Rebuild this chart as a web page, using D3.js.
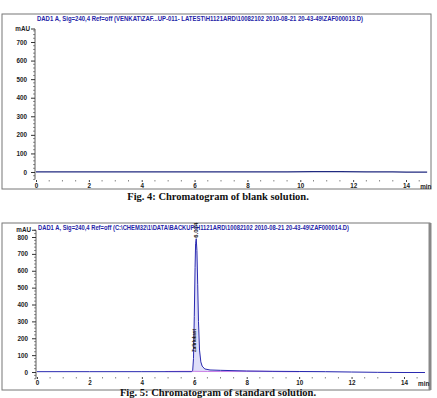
<!DOCTYPE html>
<html><head><meta charset="utf-8">
<script src="https://cdn.jsdelivr.net/npm/d3@7/dist/d3.min.js"></script>
<style>body{margin:0;background:#fff}svg{display:block}</style>
</head><body><svg id="c" width="437" height="398"></svg>
<script>
const xTicks=[0,2,4,6,8,10,12,14];
const yTicksBlank=[0,100,200,300,400,500,600,700];
const yTicksStd=[0,100,200,300,400,500,600,700,800];
const titleBlank="DAD1 A, Sig=240,4 Ref=off (VENKAT\\ZAF...UP-011- LATEST\\H1121ARD\\10082102 2010-08-21 20-43-49\\ZAF000013.D)";
const titleStd="DAD1 A, Sig=240,4 Ref=off (C:\\CHEM32\\1\\DATA\\BACKUP\\H1121ARD\\10082102 2010-08-21 20-43-49\\ZAF000014.D)";
const captionBlank="Fig. 4: Chromatogram of blank solution.";
const captionStd="Fig. 5: Chromatogram of standard solution.";
// blank signal (min, mAU)
const blankT=[0,1,2,3,4,5,6,7,8,8.7,9.5,10.5,11.5,12.5,13.5,14,14.8];
const blankV=[1,1,0.8,0.8,0.6,0.6,0.5,0.5,0.4,0.6,1,1.5,1.5,1.2,0.5,-0.5,-0.8];
// standard signal (min, mAU)
const stdT=[0,2,4,5,5.9,5.94,5.97,6.0,6.03,6.05,6.074,6.1,6.13,6.16,6.2,6.25,6.3,6.4,6.6,7,8,9,10,11,12,13,14,14.8];
const stdV=[2,2,2,2,2,10,80,330,620,760,790,720,520,300,130,60,35,18,12,10,6,4,3,2,0,-2,-3,-3];
// reference (pink) trace
const refT=[4.9,5.5,6.0,6.5,7,8,8.5,9,9.5,10];
const refV=[3,4,4,3,3,4,4,3,2,2];
const peakLabel="6.074", peakName="Zafirlukast";

const svg=d3.select("#c");
const blue="#1e1ea8";

function panel(o){
  const g=svg.append("g");
  g.append("rect").attr("x",o.fx0).attr("y",o.fy0).attr("width",o.fx1-o.fx0).attr("height",o.fy1-o.fy0)
    .attr("fill","none").attr("stroke","#777").attr("stroke-width",1);
  if(o.thickRight) g.append("line").attr("x1",o.fx1).attr("x2",o.fx1).attr("y1",o.fy0).attr("y2",o.fy1).attr("stroke","#888").attr("stroke-width",3);
  g.append("text").attr("x",o.tx).attr("y",o.ty).text(o.title).attr("fill",blue)
    .attr("font-family","Liberation Sans, Arial").attr("font-size",7).attr("font-weight","bold").attr("textLength",o.tlen).attr("lengthAdjust","spacingAndGlyphs");
  const x=d3.scaleLinear().domain([0,14]).range([o.x0,o.x14]);
  const y=d3.scaleLinear().domain([0,o.ytop]).range([o.y0,o.yTopPx]);
  // y axis
  const ax=d3.axisLeft(y).tickValues(o.yTicks).tickSize(4).tickFormat(d3.format("d"));
  const ag=g.append("g").attr("transform",`translate(${o.ax},0)`).call(ax);
  ag.select(".domain").remove();
  ag.selectAll("text").attr("font-family","Liberation Sans, Arial").attr("font-size",6.3).attr("font-weight","bold").attr("fill","#222").attr("dx",-1);
  ag.selectAll("line").attr("stroke","#333");
  g.append("line").attr("x1",o.ax).attr("x2",o.ax).attr("y1",y(o.ymin)).attr("y2",y(o.ymax)).attr("stroke","#333").attr("stroke-width",0.8);
  const minor=d3.range(o.ymin,o.ymax+1,20).filter(v=>v%100!==0);
  g.selectAll(null).data(minor).enter().append("line").attr("x1",o.ax-2).attr("x2",o.ax).attr("y1",d=>y(d)).attr("y2",d=>y(d)).attr("stroke","#444").attr("stroke-width",0.6);
  g.append("line").attr("x1",o.ax-4).attr("x2",o.ax).attr("y1",y(o.ymax)).attr("y2",y(o.ymax)).attr("stroke","#333");
  g.append("text").attr("x",o.ax-5).attr("y",y(o.ymax)+2).attr("text-anchor","end").text("mAU")
    .attr("font-family","Liberation Sans, Arial").attr("font-size",6.3).attr("font-weight","bold").attr("fill","#222");
  // x axis (ticks only)
  const xa=d3.axisBottom(x).tickValues(xTicks).tickSize(2).tickPadding(2).tickFormat(d3.format("d"));
  const xg=g.append("g").attr("transform",`translate(0,${o.xaY})`).call(xa);
  xg.select(".domain").remove();
  xg.selectAll("line").attr("stroke","#444");
  xg.selectAll("text").attr("font-family","Liberation Sans, Arial").attr("font-size",6.3).attr("font-weight","bold").attr("fill","#222");
  const xminor=d3.range(0.5,14.9,0.5).filter(v=>v%2!==0);
  g.selectAll(null).data(xminor).enter().append("line").attr("x1",d=>x(d)).attr("x2",d=>x(d)).attr("y1",o.xaY).attr("y2",o.xaY+1.5).attr("stroke","#555").attr("stroke-width",0.7);
  g.append("text").attr("x",x(14.75)).attr("y",o.xaY+8.5).attr("text-anchor","middle").text("min")
    .attr("font-family","Liberation Sans, Arial").attr("font-size",6.3).attr("font-weight","bold").attr("fill","#222");
  return {g,x,y};
}

// caption
function caption(t,yy){
  svg.append("text").attr("x",218).attr("y",yy).attr("text-anchor","middle").text(t)
    .attr("font-family","Liberation Serif, Times New Roman").attr("font-size",10.5).attr("font-weight","bold").attr("fill","#111");
}

const p1=panel({fx0:2,fy0:14,fx1:431,fy1:189,thickRight:false,tx:37,ty:20.5,tlen:326,title:titleBlank,
  x0:36,x14:406,ytop:700,y0:172,yTopPx:42,yTicks:yTicksBlank,ax:35,ymin:-40,ymax:770,xaY:180});
const line1=d3.line().x((d,i)=>p1.x(blankT[i])).y(d=>p1.y(d));
p1.g.append("path").datum(blankV).attr("d",line1).attr("fill","none").attr("stroke","#202a80").attr("stroke-width",1.2);
caption(captionBlank,200);

const p2=panel({fx0:2,fy0:223,fx1:430,fy1:390,thickRight:true,tx:38,ty:230,tlen:311,title:titleStd,
  x0:37,x14:404,ytop:800,y0:372,yTopPx:237,yTicks:yTicksStd,ax:36,ymin:-40,ymax:840,xaY:377});
const refLine=d3.line().x((d,i)=>p2.x(refT[i])).y(d=>p2.y(d));
p2.g.append("path").datum(refV).attr("d",refLine).attr("fill","none").attr("stroke","#e060e0").attr("stroke-width",0.8);
const line2=d3.line().x((d,i)=>p2.x(stdT[i])).y(d=>p2.y(d));
p2.g.append("path").datum(stdV).attr("d",line2).attr("fill","#8080e8").attr("fill-opacity",0.25).attr("stroke","#2a2ab0").attr("stroke-width",1);
// peak labels
const px=p2.x(6.074), py=p2.y(790);
p2.g.append("text").attr("transform",`translate(${px+2},${py-1}) rotate(-90)`).text(peakLabel)
  .attr("font-family","Liberation Sans, Arial").attr("font-size",6).attr("font-weight","bold").attr("fill","#111");
p2.g.append("text").attr("transform",`translate(${px},${p2.y(118)}) rotate(-90)`).text(peakName)
  .attr("font-family","Liberation Sans, Arial").attr("font-size",6).attr("font-weight","bold").attr("fill","#111").attr("textLength",23).attr("lengthAdjust","spacingAndGlyphs");
caption(captionStd,396);
</script></body></html>
